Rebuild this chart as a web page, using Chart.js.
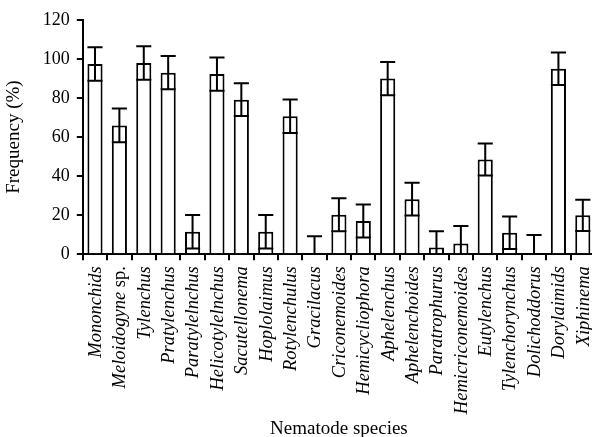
<!DOCTYPE html>
<html>
<head>
<meta charset="utf-8">
<script src="https://cdn.jsdelivr.net/npm/chart.js@4.4.0/dist/chart.umd.min.js"></script>
<style>
    html, body { margin: 0; padding: 0; background: #fff; overflow: hidden; }
    #wrap { width: 600px; height: 437px; }
</style>
</head>
<body>
<div id="wrap"><canvas id="myChart"></canvas></div>
<script>
// Nematode species (x categories)
const species = ['Mononchids', 'Meloidogyne sp.', 'Tylenchus', 'Pratylenchus', 'Paratylelnchus',
    'Helicotylelnchus', 'Sacutellonema', 'Hoplolaimus', 'Rotylenchulus', 'Gracilacus',
    'Criconemoides', 'Hemicycliophora', 'Aphelenchus', 'Aphelenchoides', 'Paratrophurus',
    'Hemicriconemoides', 'Eutylenchus', 'Tylenchorynchus', 'Dolichoddorus', 'Dorylaimids', 'Xiphinema'];

// Frequency (%) and error (+/-)
const frequency = [97.5, 66, 98, 93, 11.5, 92.3, 79.2, 11.5, 70.7, 0, 20.2, 17, 90, 28.2, 3.4, 5.5, 48.5, 11, 0, 95, 19.9];
const errors = [8.6, 8.6, 8.6, 8.5, 8.6, 8.5, 8.4, 8.6, 8.6, 9.2, 8.5, 8.5, 8.5, 8.4, 8.4, 9, 8.2, 8.3, 9.8, 8.3, 8];

const yTicks = [0, 20, 40, 60, 80, 100, 120];

const LABEL_FONT = 18.5;

// Draw error bars (whiskers) on top of the bars
const errorBarPlugin = {
    id: 'errorBars',
    afterDatasetsDraw(chart) {
        const ctx = chart.ctx;
        const meta = chart.getDatasetMeta(0);
        const y = chart.scales.y;
        ctx.save();
        ctx.strokeStyle = '#000';
        ctx.lineWidth = 2;
        meta.data.forEach((bar, i) => {
            const v = frequency[i];
            const e = errors[i];
            const x = bar.x;
            const half = bar.width / 2;
            const yTop = y.getPixelForValue(v + e);
            const yBot = y.getPixelForValue(Math.max(0, v - e));
            ctx.beginPath();
            ctx.moveTo(x, yTop);
            ctx.lineTo(x, yBot);
            ctx.moveTo(x - half, yTop);
            ctx.lineTo(x + half, yTop);
            if (v - e > 0) {
                ctx.moveTo(x - half, yBot);
                ctx.lineTo(x + half, yBot);
            }
            ctx.stroke();
        });
        ctx.restore();
    }
};

// Vertical italic species names ("sp." stays upright)
const speciesLabelPlugin = {
    id: 'speciesLabels',
    afterDraw(chart) {
        const ctx = chart.ctx;
        const xs = chart.scales.x;
        const top = chart.chartArea.bottom + 12;
        ctx.save();
        ctx.fillStyle = '#000';
        ctx.textBaseline = 'middle';
        ctx.textAlign = 'right';
        species.forEach((name, i) => {
            const x = xs.getPixelForValue(i);
            ctx.save();
            ctx.translate(x + 1, top);
            ctx.rotate(-Math.PI / 2);
            let offset = 0;
            let main = name;
            if (name.endsWith(' sp.')) {
                main = name.slice(0, -3);
                ctx.font = LABEL_FONT + 'px "Liberation Serif"';
                ctx.fillText('sp.', 0, 0);
                offset = ctx.measureText('sp.').width;
            }
            ctx.font = 'italic ' + LABEL_FONT + 'px "Liberation Serif"';
            ctx.fillText(main, -offset, 0);
            ctx.restore();
        });
        ctx.restore();
    }
};

const ctx = document.getElementById('myChart').getContext('2d');
const chart = new Chart(ctx, {
    type: 'bar',
    data: {
        labels: species,
        datasets: [{
            label: 'Frequency (%)',
            data: frequency,
            backgroundColor: '#fff',
            borderColor: '#000',
            borderWidth: 2,
            borderSkipped: 'start',
            barPercentage: 0.62,
            categoryPercentage: 1.0
        }]
    },
    options: {
        responsive: true,
        maintainAspectRatio: false,
        animation: false,
        layout: { padding: { top: 20, right: 5, left: 3, bottom: -3 } },
        plugins: {
            legend: { display: false },
            tooltip: { enabled: false }
        },
        scales: {
            x: {
                border: { display: true, color: '#000', width: 2 },
                grid: { drawOnChartArea: false, color: '#000', lineWidth: 2, tickLength: 6, offset: true },
                ticks: { display: false },
                title: {
                    display: true,
                    text: 'Nematode species',
                    color: '#000',
                    padding: { top: 157, bottom: 0 },
                    font: { family: 'Liberation Serif', size: 19 }
                }
            },
            y: {
                min: 0,
                max: 120,
                afterBuildTicks: (axis) => { axis.ticks = yTicks.map(v => ({ value: v })); },
                border: { display: true, color: '#000', width: 2 },
                grid: { drawOnChartArea: false, color: '#000', lineWidth: 2, tickLength: 6 },
                ticks: {
                    color: '#000',
                    padding: 7,
                    font: { family: 'Liberation Serif', size: 18 }
                },
                title: {
                    display: true,
                    text: 'Frequency (%)',
                    color: '#000',
                    padding: { top: 0, bottom: 10 },
                    font: { family: 'Liberation Serif', size: 19 }
                }
            }
        }
    },
    plugins: [errorBarPlugin, speciesLabelPlugin]
});
</script>
</body>
</html>
